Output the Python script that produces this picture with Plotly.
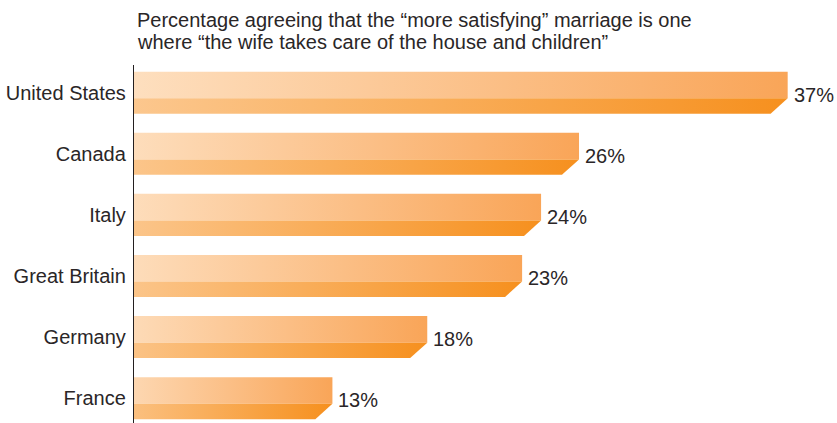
import plotly.graph_objects as go

# Survey data
countries = ["United States", "Canada", "Italy", "Great Britain", "Germany", "France"]
percent = [37, 26, 24, 23, 18, 13]
value_labels = ["37%", "26%", "24%", "23%", "18%", "13%"]

title_lines = [
    "Percentage agreeing that the \u201cmore satisfying\u201d marriage is one",
    "where \u201cthe wife takes care of the house and children\u201d",
]

# Bar geometry (in axis units)
TOP = -0.344      # upper edge of bar relative to row centre
MID = 0.092       # split between light upper face and darker lower face
BOT = 0.344       # lower edge
BEVEL = 0.9       # horizontal cut of the lower face's right corner

upper_scale = [[0, "#FEE3C6"], [1, "#F9A558"]]
lower_scale = [[0, "#FCCB96"], [1, "#F6901E"]]

FONT = "Liberation Sans, Arial, Helvetica, sans-serif"
TEXT_COLOR = "#2A2627"

fig = go.Figure()

for i, (name, v) in enumerate(zip(countries, percent)):
    c = i
    # light upper face
    fig.add_trace(go.Scatter(
        x=[0, v, v, 0, 0],
        y=[c + TOP, c + TOP, c + MID, c + MID, c + TOP],
        mode="lines", line=dict(width=0),
        fill="toself",
        fillgradient=dict(type="horizontal", colorscale=upper_scale),
        hoverinfo="skip", showlegend=False,
    ))
    # darker lower face with bevelled right corner
    fig.add_trace(go.Scatter(
        x=[0, v, v - BEVEL, 0, 0],
        y=[c + MID, c + MID, c + BOT, c + BOT, c + MID],
        mode="lines", line=dict(width=0),
        fill="toself",
        fillgradient=dict(type="horizontal", colorscale=lower_scale),
        hoverinfo="skip", showlegend=False,
    ))
    fig.add_annotation(
        x=v, y=c + 0.03, xref="x", yref="y",
        text=value_labels[i], showarrow=False,
        xanchor="left", yanchor="middle", xshift=4,
        font=dict(family=FONT, size=20, color=TEXT_COLOR),
    )

# Two-line heading above the plot area
for line, ypos in zip(title_lines, [1.1257, 1.0642]):
    fig.add_annotation(
        x=0, y=ypos, xref="paper", yref="paper",
        xanchor="left", yanchor="middle", xshift=1,
        text=line, align="left", showarrow=False,
        font=dict(family=FONT, size=20, color=TEXT_COLOR),
    )

fig.update_layout(
    width=837, height=423,
    margin=dict(l=134, r=0, t=65, b=0),
    paper_bgcolor="white", plot_bgcolor="white",
    showlegend=False,
    xaxis=dict(range=[2.54, 39.6], visible=False, fixedrange=True),
    yaxis=dict(
        range=[5.406, -0.453],
        tickvals=list(range(len(countries))), ticktext=countries,
        showgrid=False, zeroline=False,
        showline=True, linecolor="#231F20", linewidth=1.3,
        ticks="", ticklabelstandoff=3,
        tickfont=dict(family=FONT, size=20, color=TEXT_COLOR),
        fixedrange=True,
    ),
)

fig.write_html("out.html", config={"displayModeBar": False})
